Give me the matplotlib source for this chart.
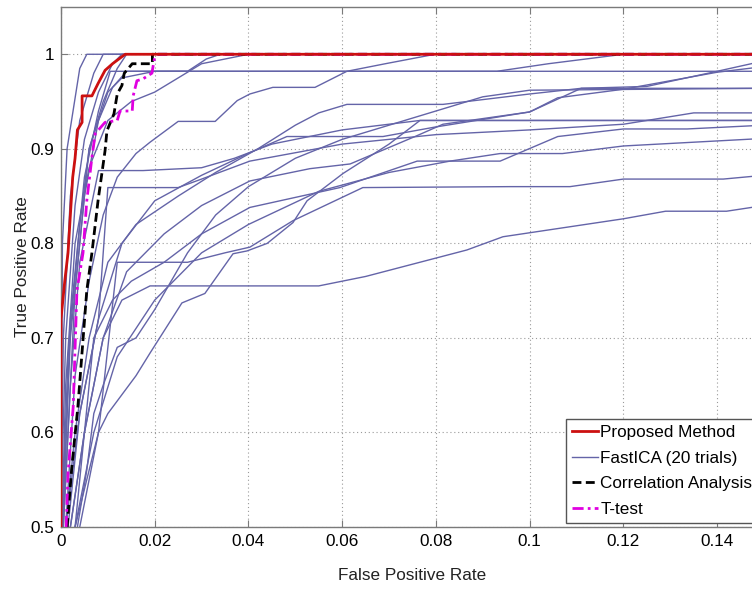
import matplotlib
matplotlib.use("Agg")
import matplotlib.pyplot as plt
from matplotlib.ticker import FuncFormatter

plt.rcParams['font.family'] = ['Liberation Sans', 'DejaVu Sans']

# ---------------- data (FPR, TPR) ----------------
proposed_fpr = [0.0, 0.0, 0.0008, 0.0015, 0.0025, 0.003, 0.0035, 0.0045, 0.0045, 0.0066, 0.0079, 0.0094, 0.011, 0.0137, 0.15]
proposed_tpr = [0.45, 0.72, 0.76, 0.79, 0.87, 0.89, 0.92, 0.928, 0.956, 0.956, 0.969, 0.983, 0.99, 1.0, 1.0]

corr_fpr = [0.0013, 0.0023, 0.0036, 0.0055, 0.0066, 0.0079, 0.0094, 0.0098, 0.0113, 0.012, 0.013, 0.0135, 0.0152, 0.0195, 0.0195, 0.15]
corr_tpr = [0.5, 0.563, 0.627, 0.75, 0.79, 0.845, 0.898, 0.919, 0.937, 0.958, 0.967, 0.98, 0.99, 0.99, 1.0, 1.0]

ttest_fpr = [0.0011, 0.0015, 0.0026, 0.0034, 0.0047, 0.0055, 0.0066, 0.0073, 0.0094, 0.012, 0.0126, 0.0152, 0.0154, 0.0162, 0.0175, 0.0194, 0.0196, 0.02, 0.0205, 0.15]
ttest_tpr = [0.5, 0.557, 0.627, 0.75, 0.79, 0.845, 0.891, 0.916, 0.928, 0.93, 0.94, 0.94, 0.956, 0.972, 0.974, 0.98, 0.986, 0.997, 1.0, 1.0]

ica_fpr = [
    [0, 0.0003, 0.0013, 0.004, 0.0055, 0.15],
    [0, 0.0005, 0.002, 0.004, 0.007, 0.009, 0.15],
    [0, 0.001, 0.003, 0.005, 0.008, 0.011, 0.013, 0.15],
    [0.0002, 0.0015, 0.004, 0.006, 0.009, 0.012, 0.014, 0.15],
    [0.0004, 0.002, 0.005, 0.008, 0.0105, 0.15],
    [0.0003, 0.002, 0.005, 0.008, 0.011, 0.014, 0.027, 0.031, 0.034, 0.15],
    [0.001, 0.003, 0.006, 0.009, 0.012, 0.016, 0.019, 0.025, 0.0329, 0.0376, 0.0403, 0.0452, 0.0542, 0.061, 0.0692, 0.0798, 0.15],
    [0.0005, 0.003, 0.006, 0.01, 0.013, 0.02, 0.093, 0.104, 0.12, 0.15],
    [0.001, 0.004, 0.008, 0.013, 0.02, 0.03, 0.0403, 0.0482, 0.0687, 0.0798, 0.1, 0.111, 0.125, 0.14, 0.15],
    [0.002, 0.005, 0.009, 0.014, 0.022, 0.03, 0.0403, 0.0531, 0.0617, 0.076, 0.0815, 0.1, 0.106, 0.12, 0.14, 0.15],
    [0.001, 0.003, 0.006, 0.01, 0.016, 0.025, 0.033, 0.042, 0.05, 0.055, 0.061, 0.0815, 0.1, 0.111, 0.15],
    [0.0015, 0.004, 0.008, 0.01, 0.025, 0.03, 0.0403, 0.06, 0.08, 0.1, 0.12, 0.135, 0.15],
    [0.0005, 0.002, 0.004, 0.008, 0.0175, 0.03, 0.037, 0.045, 0.06, 0.0766, 0.15],
    [0.002, 0.005, 0.007, 0.011, 0.015, 0.022, 0.03, 0.0403, 0.0595, 0.076, 0.0937, 0.106, 0.12, 0.1336, 0.15],
    [0.003, 0.007, 0.012, 0.02, 0.03, 0.04, 0.055, 0.07, 0.083, 0.0937, 0.107, 0.12, 0.15],
    [0.003, 0.008, 0.012, 0.027, 0.035, 0.0403, 0.0495, 0.0644, 0.0958, 0.1086, 0.12, 0.1413, 0.15],
    [0.003, 0.005, 0.009, 0.013, 0.019, 0.055, 0.065, 0.0866, 0.0943, 0.12, 0.129, 0.142, 0.15],
    [0.004, 0.006, 0.008, 0.01, 0.013, 0.016, 0.019, 0.0258, 0.0307, 0.0367, 0.0397, 0.044, 0.0495, 0.0525, 0.0602, 0.07, 0.0766, 0.15],
    [0.0035, 0.0055, 0.007, 0.009, 0.012, 0.016, 0.02, 0.027, 0.033, 0.04, 0.05, 0.06, 0.07, 0.08, 0.09, 0.1, 0.15],
    [0.0002, 0.001, 0.003, 0.006, 0.01, 0.015, 0.02, 0.025, 0.03, 0.04, 0.15],
]
ica_tpr = [
    [0.5, 0.8, 0.9, 0.985, 1.0, 1.0],
    [0.5, 0.7, 0.85, 0.93, 0.98, 1.0, 1.0],
    [0.52, 0.7, 0.84, 0.91, 0.96, 0.99, 1.0, 1.0],
    [0.5, 0.68, 0.82, 0.9, 0.95, 0.985, 1.0, 1.0],
    [0.5, 0.72, 0.87, 0.94, 0.982, 0.982],
    [0.5, 0.7, 0.85, 0.93, 0.965, 0.982, 0.982, 0.995, 1.0, 1.0],
    [0.5, 0.66, 0.76, 0.83, 0.87, 0.895, 0.907, 0.929, 0.929, 0.951, 0.958, 0.965, 0.965, 0.982, 0.99, 1.0, 1.0],
    [0.5, 0.75, 0.9, 0.96, 0.975, 0.982, 0.982, 0.99, 1.0, 1.0],
    [0.5, 0.62, 0.72, 0.8, 0.845, 0.872, 0.896, 0.913, 0.913, 0.923, 0.939, 0.964, 0.966, 0.982, 0.993],
    [0.5, 0.6, 0.7, 0.77, 0.81, 0.84, 0.866, 0.879, 0.884, 0.914, 0.926, 0.939, 0.954, 0.963, 0.981, 0.987],
    [0.5, 0.6, 0.7, 0.78, 0.82, 0.85, 0.875, 0.9, 0.925, 0.938, 0.947, 0.947, 0.958, 0.964, 0.964],
    [0.5, 0.62, 0.72, 0.859, 0.859, 0.868, 0.887, 0.905, 0.915, 0.92, 0.926, 0.938, 0.938],
    [0.5, 0.65, 0.78, 0.877, 0.877, 0.88, 0.89, 0.905, 0.92, 0.93, 0.93],
    [0.5, 0.6, 0.7, 0.74, 0.76, 0.78, 0.81, 0.838, 0.859, 0.887, 0.887, 0.913, 0.921, 0.921, 0.925],
    [0.5, 0.6, 0.68, 0.74, 0.79, 0.82, 0.855, 0.875, 0.887, 0.895, 0.895, 0.903, 0.911],
    [0.5, 0.6, 0.78, 0.78, 0.79, 0.796, 0.824, 0.859, 0.86, 0.86, 0.868, 0.868, 0.872],
    [0.5, 0.6, 0.7, 0.74, 0.755, 0.755, 0.765, 0.793, 0.807, 0.826, 0.834, 0.834, 0.84],
    [0.5, 0.55, 0.6, 0.62, 0.64, 0.66, 0.684, 0.737, 0.747, 0.789, 0.792, 0.8, 0.822, 0.845, 0.874, 0.905, 0.93, 0.93],
    [0.5, 0.56, 0.62, 0.65, 0.69, 0.7, 0.73, 0.79, 0.83, 0.86, 0.89, 0.91, 0.925, 0.94, 0.955, 0.962, 0.964],
    [0.5, 0.65, 0.8, 0.88, 0.93, 0.95, 0.96, 0.975, 0.99, 1.0, 1.0],
]

x_ticks = [0, 0.02, 0.04, 0.06, 0.08, 0.1, 0.12, 0.14]
y_ticks = [0.5, 0.6, 0.7, 0.8, 0.9, 1.0]
labels = ["Proposed Method", "FastICA (20 trials)", "Correlation Analysis", "T-test"]

# ---------------- figure ----------------
W, H = 752, 589
fig = plt.figure(figsize=(W / 100, H / 100), dpi=100)
ax = fig.add_axes([61 / W, 62 / H, 703 / W, 520 / H])

ica_color = '#6464a8'
h_ica = None
for fx, fy in zip(ica_fpr, ica_tpr):
    h_ica, = ax.plot(fx, fy, color=ica_color, lw=1.0, zorder=2)
h_corr, = ax.plot(corr_fpr, corr_tpr, color='black', lw=2.0, ls=(0, (3.2, 1.6)), zorder=3)
h_tt, = ax.plot(ttest_fpr, ttest_tpr, color='#e000e0', lw=2.0, ls=(0, (4, 1.5, 1, 1.5)), zorder=4)
h_prop, = ax.plot(proposed_fpr, proposed_tpr, color='#cc1010', lw=2.0, zorder=5)

ax.set_xlim(0, 0.15)
ax.set_ylim(0.5, 1.05)
ax.set_xticks(x_ticks)
ax.set_yticks(y_ticks)
fmt = FuncFormatter(lambda v, p: ('%g' % round(v, 4)))
ax.xaxis.set_major_formatter(fmt)
ax.yaxis.set_major_formatter(fmt)

ax.grid(True, ls=(0, (1, 2.5)), color='#9a9a9a', lw=0.8)
ax.set_axisbelow(True)
for s in ax.spines.values():
    s.set_color('#7a7a7a')
    s.set_linewidth(1.0)
ax.tick_params(direction='in', length=5, width=0.8, color='#7a7a7a',
               top=True, right=True, labelsize=12.3, pad=5)

ax.set_xlabel('False Positive Rate', fontsize=12.3, labelpad=14, color='#222222')
ax.set_ylabel('True Positive Rate', fontsize=12.3, labelpad=0, color='#222222')

leg = ax.legend([h_prop, h_ica, h_corr, h_tt], labels, loc='lower left',
                bbox_to_anchor=((566 - 61) / 703, 4 / 520), borderaxespad=0,
                fontsize=12.3, fancybox=False, framealpha=1, edgecolor='#555555',
                handlelength=1.5, handletextpad=0.15, borderpad=0.35,
                labelspacing=0.62)
leg.get_frame().set_linewidth(1.0)

fig.savefig('out.png', dpi=100)
